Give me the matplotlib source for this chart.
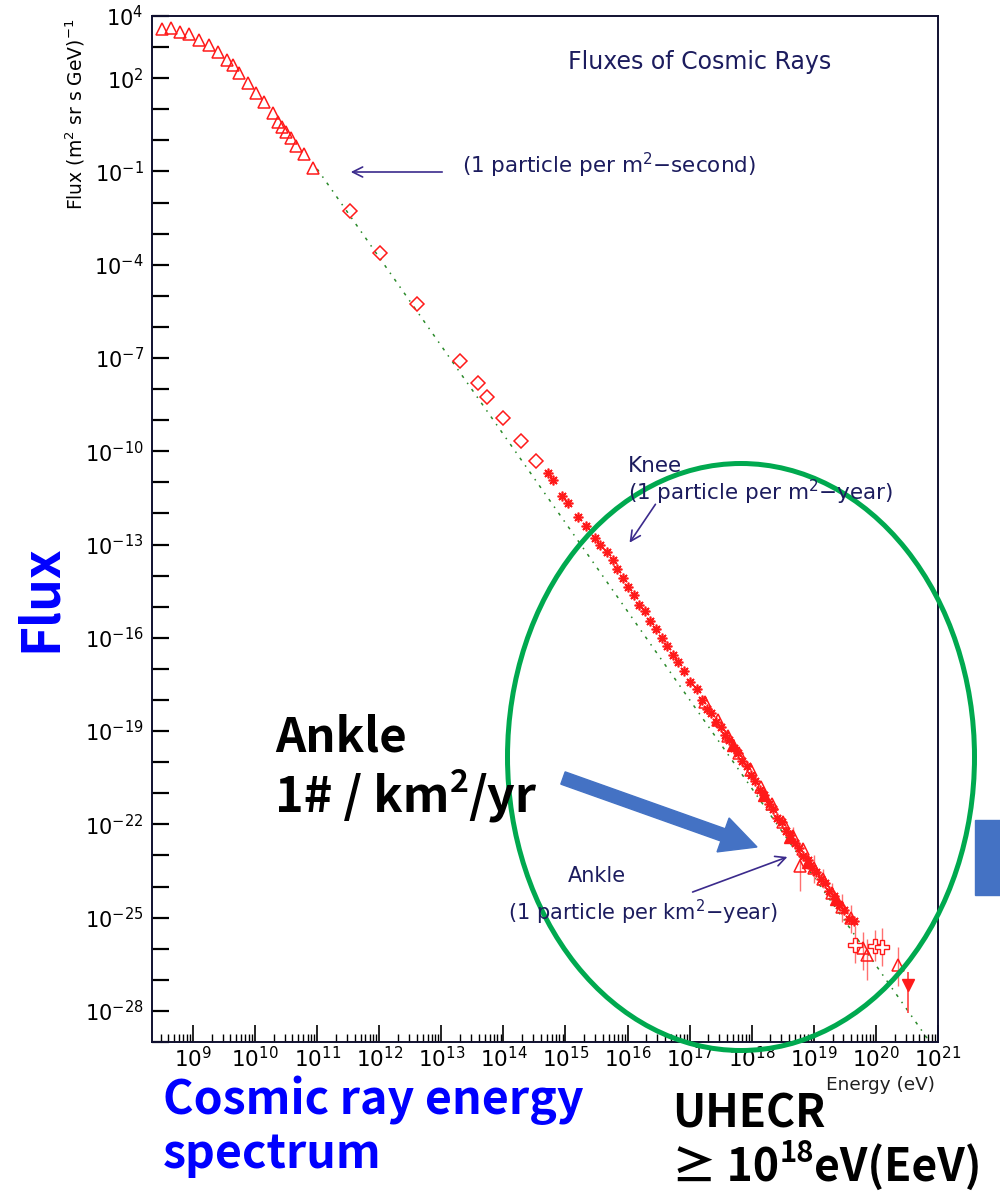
import numpy as np
import matplotlib
matplotlib.use("Agg")
import matplotlib.pyplot as plt
from matplotlib.patches import Ellipse, FancyArrow, Rectangle
from matplotlib.ticker import FixedLocator, FuncFormatter, LogLocator, NullFormatter

# --- data as log10 values ---
# low energy points (open triangles)
tri_logE = [8.50, 8.65, 8.79, 8.94, 9.10, 9.26, 9.40, 9.55, 9.64, 9.74, 9.89,
            10.01, 10.14, 10.29, 10.37, 10.43, 10.50, 10.58, 10.66, 10.79, 10.93]
tri_logF = [3.58, 3.61, 3.49, 3.42, 3.23, 3.07, 2.84, 2.59, 2.42, 2.17, 1.85,
            1.52, 1.23, 0.88, 0.59, 0.43, 0.27, 0.08, -0.18, -0.44, -0.89]

# direct measurements (open diamonds)
dia_logE = [11.53, 12.01, 12.61, 13.30, 13.59, 13.73, 13.99, 14.28, 14.52]
dia_logF = [-2.27, -3.62, -5.26, -7.09, -7.80, -8.25, -8.93, -9.67, -10.31]

# air shower points (asterisks)
star_logE = [14.72, 14.80, 14.94, 15.04, 15.20, 15.33, 15.47, 15.55, 15.67, 15.76,
             15.83, 15.92, 16.00, 16.10, 16.18, 16.28, 16.36, 16.46, 16.55, 16.63,
             16.73, 16.81, 16.91, 17.00, 17.12,
             17.20, 17.28, 17.35, 17.42, 17.50, 17.57, 17.64, 17.71, 17.78, 17.85,
             17.92, 17.99, 18.06, 18.13, 18.20, 18.27, 18.34, 18.41, 18.48, 18.55,
             18.62, 18.69, 18.76, 18.83, 18.90, 18.97, 19.04, 19.11, 19.18, 19.25,
             19.32, 19.40, 19.48, 19.56, 19.64]
star_logF = [-10.69, -10.92, -11.43, -11.66, -12.11, -12.40, -12.78, -13.01, -13.23, -13.49,
             -13.78, -14.07, -14.36, -14.62, -14.94, -15.13, -15.45, -15.71, -16.00, -16.26,
             -16.55, -16.77, -17.06, -17.41, -17.64,
             -18.00, -18.28, -18.43, -18.70, -18.87, -19.14, -19.28, -19.55, -19.69, -19.96,
             -20.13, -20.42, -20.59, -20.88, -21.05, -21.34, -21.51, -21.80, -21.94, -22.20,
             -22.34, -22.60, -22.75, -23.01, -23.15, -23.39, -23.52, -23.76, -23.89, -24.15,
             -24.30, -24.59, -24.77, -25.03, -25.11]

# high energy open triangles
htri_logE = [17.25, 17.45, 17.62, 17.80, 17.98, 18.15, 18.32, 18.50, 18.66, 18.78,
             18.82, 19.00, 19.15, 19.30, 19.45, 19.60, 19.79, 19.85, 20.35]
htri_logF = [-18.05, -18.65, -19.15, -19.70, -20.25, -20.80, -21.35, -21.92, -22.38, -23.35,
             -22.80, -23.40, -23.75, -24.20, -24.65, -25.00, -25.97, -26.20, -26.51]
htri_errlo = [0, 0, 0, 0, 0, 0, 0, 0, 0.3, 0.8,
              0, 0.5, 0.3, 0.3, 0.5, 0.5, 0.7, 0.8, 0.7]
htri_errhi = [0, 0, 0, 0, 0, 0, 0, 0, 0.3, 0.5,
              0, 0.4, 0.3, 0.3, 0.4, 0.4, 0.5, 0.5, 0.55]

# filled triangles
ftri_logE = [17.70, 18.20, 18.62, 18.90, 19.35]
ftri_logF = [-19.45, -21.05, -22.40, -23.20, -24.40]

# open crosses near the end
cross_logE = [19.66, 19.98, 20.10]
cross_logF = [-25.87, -25.90, -25.94]
cross_err = [0.6, 0.5, 0.6]

# highest energy point (filled, pointing down)
top_logE = [20.51]
top_logF = [-27.16]
top_errlo = [0.9]
top_errhi = [0.42]

# E^-2.85 guide line
line_logE = [11.0, 20.85]
line_logF = [-0.92, -28.95]

ytick_labels = [4, 2, -1, -4, -7, -10, -13, -16, -19, -22, -25, -28]

E = lambda a: np.power(10.0, np.asarray(a, dtype=float))

fig = plt.figure(figsize=(10, 11.95), dpi=100)
W, H = 1000, 1195
def fx(px): return px / W
def fy(py): return 1 - py / H

ax = fig.add_axes([fx(152), fy(1042), fx(938) - fx(152), fy(16) - fy(1042)])
ax.set_xscale("log")
ax.set_yscale("log")
ax.set_xlim(10 ** 8.34, 10 ** 21.0)
ax.set_ylim(1e-29, 1e4)

red = "#ff1a1a"
ax.plot(E(line_logE), E(line_logF), color="#2a8a2a", lw=1.1,
        linestyle=(0, (2, 4, 1, 4)), zorder=1)
ax.plot(E(tri_logE), E(tri_logF), "^", mfc="none", mec=red, ms=8, mew=1.1)
ax.plot(E(dia_logE), E(dia_logF), "D", mfc="none", mec=red, ms=7, mew=1.1)

# error bars (log decades)
hE, hF = E(htri_logE), E(htri_logF)
ylo = hF - E(np.array(htri_logF) - np.array(htri_errlo))
yhi = E(np.array(htri_logF) + np.array(htri_errhi)) - hF
ax.errorbar(hE, hF, yerr=[ylo, yhi], fmt="none", ecolor="#ff7070", elinewidth=1.0, zorder=2)
cE, cF = E(cross_logE), E(cross_logF)
ax.errorbar(cE, cF, yerr=[cF - E(np.array(cross_logF) - cross_err),
                          E(np.array(cross_logF) + cross_err) - cF],
            fmt="none", ecolor="#ff7070", elinewidth=1.0, zorder=2)
tE, tF = E(top_logE), E(top_logF)
ax.errorbar(tE, tF, yerr=[tF - E(np.array(top_logF) - top_errlo),
                          E(np.array(top_logF) + top_errhi) - tF],
            fmt="none", ecolor="#ff4040", elinewidth=1.2, zorder=2)

ax.plot(E(star_logE), E(star_logF), marker=(8, 2, 0), ls="none", color=red, ms=7, mew=1.2, zorder=3)
ax.plot(hE, hF, "^", mfc="none", mec=red, ms=9, mew=1.1, zorder=3)
ax.plot(E(ftri_logE), E(ftri_logF), "^", color=red, ms=8, zorder=3)
ax.plot(cE, cF, "P", mfc="white", mec=red, ms=10, mew=1.0, zorder=3)
ax.plot(tE, tF, "v", color=red, ms=9, zorder=3)

# axes styling
for s in ax.spines.values():
    s.set_color("#101030")
    s.set_linewidth(1.4)
ax.xaxis.set_major_locator(LogLocator(base=10, numticks=30))
ax.xaxis.set_minor_locator(LogLocator(base=10, subs=np.arange(2, 10), numticks=300))
ax.xaxis.set_minor_formatter(NullFormatter())
ax.xaxis.set_major_formatter(FuncFormatter(
    lambda v, p: r"$10^{%d}$" % round(np.log10(v)) if 9 <= round(np.log10(v)) <= 21 else ""))
ax.yaxis.set_major_locator(FixedLocator(E(np.arange(-29, 5))))
ax.yaxis.set_minor_locator(FixedLocator([]))
ax.yaxis.set_major_formatter(FuncFormatter(
    lambda v, p: r"$10^{%d}$" % round(np.log10(v)) if round(np.log10(v)) in ytick_labels else ""))
ax.tick_params(axis="x", which="major", direction="in", length=12, width=1.2,
               labelsize=15.5, pad=3, top=False)
ax.tick_params(axis="x", which="minor", direction="in", length=6, width=1.0, top=False)
ax.tick_params(axis="y", which="major", direction="in", length=12, width=1.6,
               labelsize=15, pad=6, right=False)

navy = "#1c1c5e"
txt = dict(color=navy, family="DejaVu Sans")
fig.text(fx(568), fy(62), "Fluxes of Cosmic Rays", fontsize=17, va="center", ha="left", **txt)
fig.text(fx(462), fy(165), r"(1 particle per m$^2$$-$second)", fontsize=15.5, va="center", ha="left", **txt)
fig.text(fx(628), fy(466), "Knee", fontsize=15.5, va="center", ha="left", **txt)
fig.text(fx(628), fy(492), r"(1 particle per m$^2$$-$year)", fontsize=15.5, va="center", ha="left", **txt)
fig.text(fx(568), fy(876), "Ankle", fontsize=15, va="center", ha="left", **txt)
fig.text(fx(508), fy(912), r"(1 particle per km$^2$$-$year)", fontsize=15, va="center", ha="left", **txt)
fig.text(fx(75), fy(114), r"Flux (m$^2$ sr s GeV)$^{-1}$", fontsize=13.5, rotation=90,
         va="center", ha="center", color="black")
fig.text(fx(880), fy(1085), "Energy (eV)", fontsize=13.3, va="center", ha="center", color="#202020")

arrow_kw = dict(arrowstyle="->", color="#3b2a8c", lw=1.2, mutation_scale=18)
ax.annotate("", xy=(fx(348), fy(172)), xycoords="figure fraction",
            xytext=(fx(445), fy(172)), textcoords="figure fraction", arrowprops=arrow_kw)
ax.annotate("", xy=(fx(628), fy(545)), xycoords="figure fraction",
            xytext=(fx(657), fy(502)), textcoords="figure fraction", arrowprops=arrow_kw)
ax.annotate("", xy=(fx(790), fy(856)), xycoords="figure fraction",
            xytext=(fx(690), fy(893)), textcoords="figure fraction", arrowprops=arrow_kw)

# slide overlay
big = ["Noto Sans CJK KR", "DejaVu Sans"]
bold = dict(fontweight="bold", family=big, ha="left", va="baseline")
renderer = fig.canvas.get_renderer()


def put_row(x0, base, pieces, color):
    # pieces: (text, size, raise_px)
    x = x0
    for s, size, up in pieces:
        t = fig.text(fx(x), fy(base - up), s, fontsize=size, color=color, **bold)
        x = t.get_window_extent(renderer).x1


fig.text(fx(14), fy(598), "Flux", rotation=90, fontsize=37, fontweight="bold",
         color="#0000ff", family=big, va="center", ha="left")
put_row(163, 1114, [("Cosmic ray energy", 33.5, 0)], "#0000ff")
put_row(163, 1168, [("spectrum", 33.5, 0)], "#0000ff")
put_row(672, 1128, [("UHECR", 32, 0)], "black")
put_row(672, 1181, [("≥ 10", 32, 0), ("18", 21, 19), ("eV(EeV)", 32, 0)], "black")
put_row(275, 752, [("Ankle", 34, 0)], "black")
put_row(275, 812, [("1# / km", 35, 0), ("2", 23, 20), ("/yr", 35, 0)], "black")

inch = fig.dpi_scale_trans
fig.add_artist(FancyArrow(5.63, (H - 778) / 100, 1.94, -0.69, width=0.13,
                          head_width=0.36, head_length=0.36, length_includes_head=True,
                          color="#4472c4", transform=inch))
fig.add_artist(Rectangle((9.75, (H - 895) / 100), 0.30, 0.75, color="#4472c4", transform=inch))
fig.add_artist(Ellipse((7.41, (H - 757) / 100), 4.67, 5.87, fill=False,
                       edgecolor="#00a94f", lw=3.6, transform=inch))

fig.savefig("out.png", dpi=100)
